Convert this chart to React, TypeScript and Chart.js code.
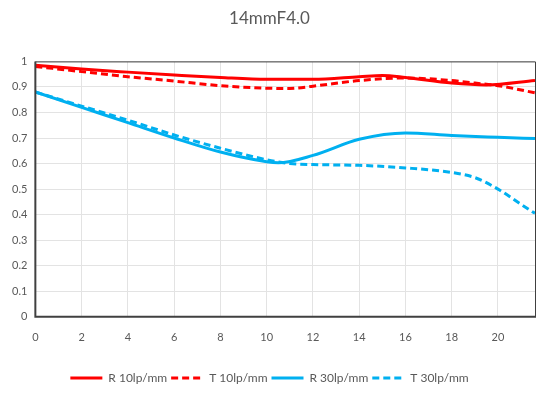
import React, { useEffect, useRef } from "react";
import { Chart, registerables } from "chart.js";

Chart.register(...registerables);

const titleText = "14mmF4.0";
const seriesLabels = ["R 10lp/mm", "T 10lp/mm", "R 30lp/mm", "T 30lp/mm"];

const xR10 = [0, 2, 4, 6, 8, 10, 12, 14, 15, 16, 18, 19.5, 21.6];
const yR10 = [0.985, 0.97, 0.958, 0.947, 0.937, 0.93, 0.93, 0.94, 0.945, 0.937, 0.915, 0.908, 0.925];

const xT10 = [0, 2, 4, 6, 8, 10, 11, 12, 14, 16, 18, 19, 20, 21.6];
const yT10 = [0.98, 0.96, 0.94, 0.923, 0.905, 0.895, 0.894, 0.903, 0.925, 0.935, 0.925, 0.915, 0.905, 0.877];

const xR30 = [0, 2, 4, 6, 8, 10, 10.5, 12, 14, 16, 18, 20, 21.6];
const yR30 = [0.88, 0.82, 0.76, 0.7, 0.645, 0.607, 0.603, 0.632, 0.695, 0.72, 0.71, 0.703, 0.698];

const xT30 = [0, 2, 4, 6, 8, 10, 11, 12, 14, 16, 18, 19, 20, 21, 21.6];
const yT30 = [0.88, 0.825, 0.77, 0.712, 0.66, 0.615, 0.6, 0.596, 0.593, 0.583, 0.565, 0.545, 0.5, 0.44, 0.405];

const xMin = 0;
const xMax = 21.6;
const xStep = 2;
const yMin = 0;
const yMax = 1;
const yStep = 0.1;

const RED = "#ff0000";
const BLUE = "#00b0f0";
const TEXT = "#595959";
const FONT = "Lato, 'Open Sans', sans-serif";
const DASH = [7, 4];

const toPts = (xs: number[], ys: number[]) => xs.map((x, i) => ({ x, y: ys[i] }));

const borderPlugin = {
  id: "plotBorder",
  afterDatasetsDraw(chart: any) {
    const { ctx, chartArea } = chart;
    const { left, right, top, bottom } = chartArea;
    ctx.save();
    ctx.strokeStyle = "#404040";
    ctx.lineWidth = 1;
    ctx.beginPath();
    ctx.moveTo(left, top + 0.5);
    ctx.lineTo(right + 0.5, top + 0.5);
    ctx.lineTo(right + 0.5, bottom);
    ctx.stroke();
    ctx.lineWidth = 2;
    ctx.beginPath();
    ctx.moveTo(left, top);
    ctx.lineTo(left, bottom);
    ctx.lineTo(right + 1, bottom);
    ctx.stroke();
    ctx.restore();
  },
};

export default function App() {
  const ref = useRef<HTMLCanvasElement | null>(null);

  useEffect(() => {
    if (!ref.current) return;
    const mk = (label: string, xs: number[], ys: number[], color: string, dashed: boolean) => ({
      label,
      data: toPts(xs, ys),
      borderColor: color,
      backgroundColor: color,
      borderWidth: 3,
      borderDash: dashed ? DASH : [],
      pointRadius: 0,
      fill: false,
      tension: 0.4,
      cubicInterpolationMode: "monotone" as const,
    });
    const chart = new Chart(ref.current, {
      type: "line",
      data: {
        datasets: [
          mk(seriesLabels[0], xR10, yR10, RED, false),
          mk(seriesLabels[1], xT10, yT10, RED, true),
          mk(seriesLabels[2], xR30, yR30, BLUE, false),
          mk(seriesLabels[3], xT30, yT30, BLUE, true),
        ],
      },
      options: {
        animation: false,
        responsive: true,
        maintainAspectRatio: false,
        layout: { padding: { left: 4, right: 16, top: 8, bottom: 4 } },
        plugins: {
          title: {
            display: true,
            text: titleText,
            color: TEXT,
            font: { family: FONT, size: 17, weight: "normal" },
            padding: { top: 0, bottom: 33 },
          },
          legend: {
            position: "bottom",
            labels: {
              color: TEXT,
              font: { family: FONT, size: 12 },
              usePointStyle: true,
              pointStyle: "line",
              pointStyleWidth: 32,
              boxHeight: 12,
              padding: 4,
              generateLabels: (ch: any) => {
                const items = Chart.defaults.plugins.legend.labels.generateLabels(ch);
                return items.map((it: any) => {
                  const ds: any = ch.data.datasets[it.datasetIndex];
                  return {
                    ...it,
                    lineDash: ds.borderDash || [],
                    strokeStyle: ds.borderColor,
                    fillStyle: ds.borderColor,
                    lineWidth: 3,
                  };
                });
              },
            },
          },
          tooltip: { enabled: false },
        },
        scales: {
          x: {
            type: "linear",
            min: xMin,
            max: xMax,
            afterFit: (axis: any) => {
              axis.height += 10;
            },
            ticks: {
              stepSize: xStep,
              includeBounds: false,
              color: TEXT,
              font: { family: FONT, size: 11 },
              padding: 14,
            },
            grid: { color: "#e3e3e3", lineWidth: 1, drawTicks: false },
            border: { display: false },
          },
          y: {
            min: yMin,
            max: yMax,
            ticks: {
              stepSize: yStep,
              color: TEXT,
              font: { family: FONT, size: 11 },
              padding: 8,
              callback: (v: any) => String(Math.round(Number(v) * 10) / 10),
            },
            grid: { color: "#e3e3e3", lineWidth: 1, drawTicks: false },
            border: { display: false },
          },
        },
      },
      plugins: [borderPlugin],
    });
    return () => chart.destroy();
  }, []);

  return (
    <div style={{ position: "fixed", left: 0, top: 0, width: 551, height: 398, background: "#fff" }}>
      <canvas ref={ref} />
    </div>
  );
}
